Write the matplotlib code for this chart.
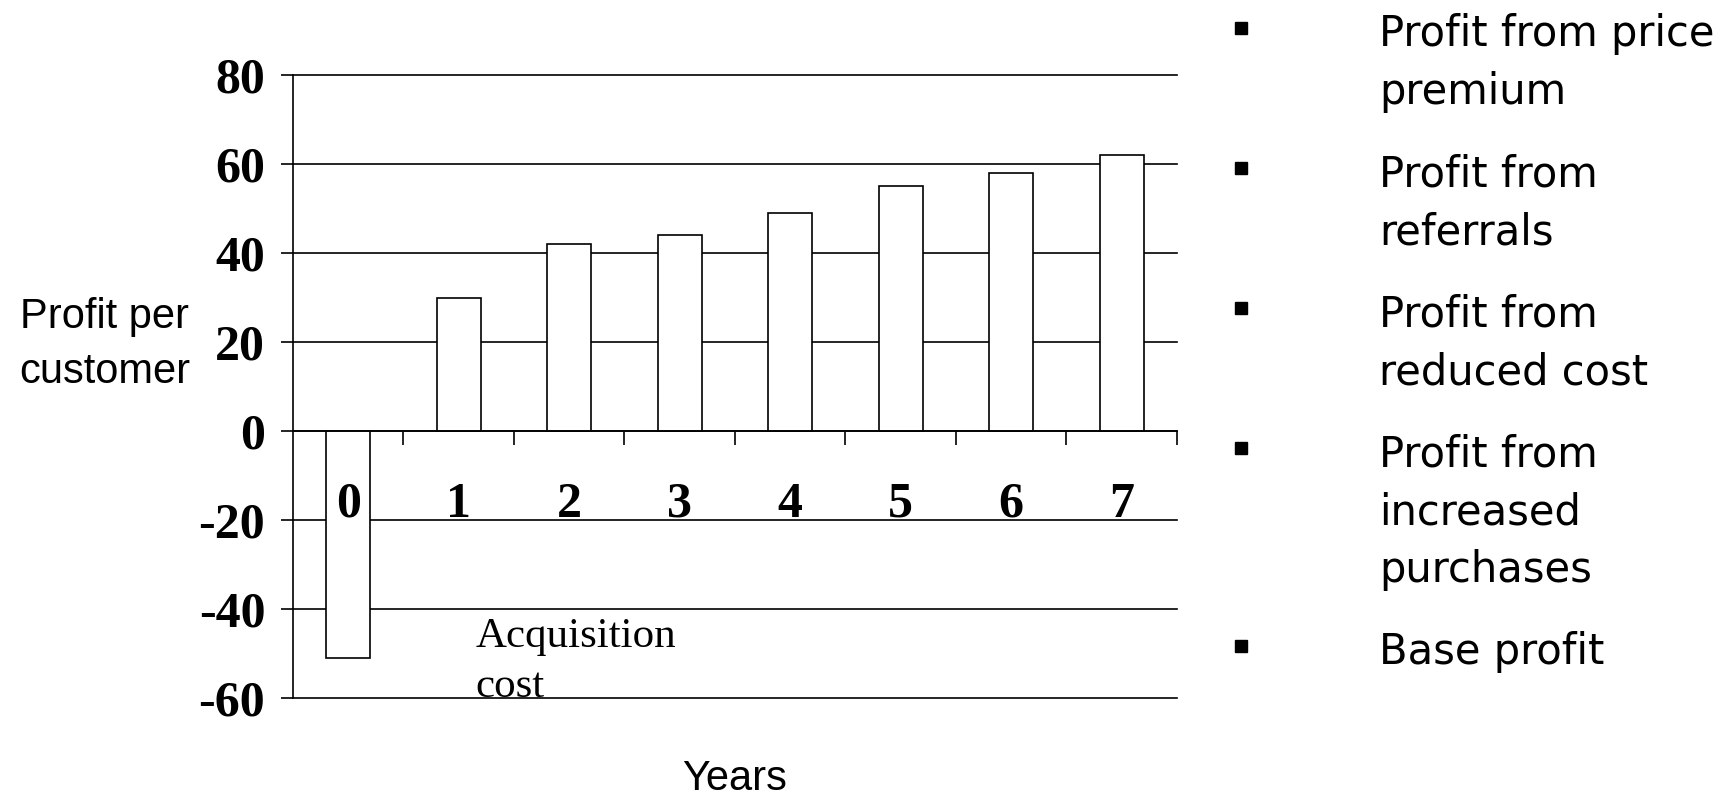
import matplotlib.pyplot as plt

# values
years = ['0', '1', '2', '3', '4', '5', '6', '7']
profit = [-51, 30, 42, 44, 49, 55, 58, 62]
y_ticks = [-60, -40, -20, 0, 20, 40, 60, 80]
legend_items = ['Profit from price\npremium',
                'Profit from\nreferrals',
                'Profit from\nreduced cost',
                'Profit from\nincreased\npurchases',
                'Base profit']

W, H = 1733, 796
serif = 'Liberation Serif'
sans = 'Liberation Sans'

fig = plt.figure(figsize=(W / 100, H / 100), dpi=100)
ax = fig.add_axes([293 / W, 1 - 698 / H, (1177 - 293) / W, (698 - 75) / H])

x = list(range(len(years)))
for v in y_ticks:
    ax.axhline(v, color='black', lw=1.2, zorder=1, clip_on=False)
ax.bar(x, profit, width=0.4, color='white', edgecolor='black', linewidth=1.2, zorder=2)

ax.set_xlim(-0.5, len(years) - 0.5)
ax.set_ylim(-60, 80)
ax.spines[['top', 'right']].set_visible(False)
ax.spines['bottom'].set_position(('data', 0))
ax.spines['left'].set_linewidth(1.2)
ax.spines['bottom'].set_linewidth(1.2)

# ticks between the year slots, hanging below the zero line
ax.set_xticks([i + 0.5 for i in x])
ax.set_xticklabels([])
ax.tick_params(axis='x', direction='out', length=10, width=1.2)

ax.set_yticks(y_ticks)
ax.set_yticklabels([str(v) for v in y_ticks], fontsize=36, fontweight='bold', family=serif)
ax.tick_params(axis='y', direction='out', length=9, width=1.2, pad=11)

for i, lab in zip(x, years):
    ax.text(i, -19.3, lab, ha='center', va='baseline', fontsize=36,
            fontweight='bold', family=serif, zorder=3)

ax.text(1.15, -48.5, 'Acquisition', ha='left', va='baseline', fontsize=31, family=serif, zorder=3)
ax.text(1.15, -59.8, 'cost', ha='left', va='baseline', fontsize=31, family=serif, zorder=3)

# overlay in pixel coords for the loose texts and the bullet list
ov = fig.add_axes([0, 0, 1, 1])
ov.set_xlim(0, W)
ov.set_ylim(H, 0)
ov.axis('off')

ov.text(105, 328, 'Profit per', ha='center', va='baseline', fontsize=30, family=sans)
ov.text(105, 383, 'customer', ha='center', va='baseline', fontsize=30, family=sans)
ov.text(735, 790, 'Years', ha='center', va='baseline', fontsize=30, family=sans)

base = 46.4
line_step = 58
item_step = 82
for item in legend_items:
    lines = item.split('\n')
    ov.plot([1241], [base - 18], marker='s', ms=9, color='black', ls='none')
    for k, ln in enumerate(lines):
        ov.text(1379, base + k * line_step, ln, ha='left', va='baseline',
                fontsize=30, family='DejaVu Sans')
    base += (len(lines) - 1) * line_step + item_step

fig.savefig('out.png', dpi=100)
